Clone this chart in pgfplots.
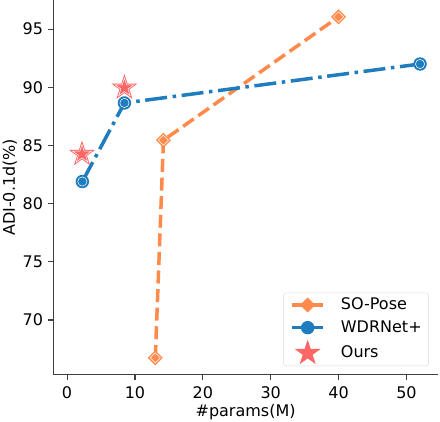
\documentclass[border=0pt]{standalone}
\usepackage{fontspec}
\setmainfont{DejaVu Sans}
\usepackage{pgfplots}
\pgfplotsset{compat=1.18}
\definecolor{cor}{RGB}{255,138,76}
\definecolor{cbl}{RGB}{31,124,190}
\definecolor{cst}{RGB}{255,102,102}
\definecolor{cax}{RGB}{64,64,64}
\newcommand\fs{\fontsize{16bp}{19bp}\selectfont}
\pgfdeclareplotmark{fstar}{%
  \pgfmathsetmacro\rO{\pgfplotmarksize}%
  \pgfmathsetmacro\rI{0.381966*\pgfplotmarksize}%
  \pgfpathmoveto{\pgfqpointpolar{90}{\rO pt}}%
  \pgfpathlineto{\pgfqpointpolar{126}{\rI pt}}%
  \pgfpathlineto{\pgfqpointpolar{162}{\rO pt}}%
  \pgfpathlineto{\pgfqpointpolar{198}{\rI pt}}%
  \pgfpathlineto{\pgfqpointpolar{234}{\rO pt}}%
  \pgfpathlineto{\pgfqpointpolar{270}{\rI pt}}%
  \pgfpathlineto{\pgfqpointpolar{306}{\rO pt}}%
  \pgfpathlineto{\pgfqpointpolar{342}{\rI pt}}%
  \pgfpathlineto{\pgfqpointpolar{18}{\rO pt}}%
  \pgfpathlineto{\pgfqpointpolar{54}{\rI pt}}%
  \pgfpathclose
  \pgfusepathqfillstroke}
\pgfdeclareplotmark{ostar}{%
  \pgfmathsetmacro\rO{\pgfplotmarksize}%
  \pgfmathsetmacro\rI{0.381966*\pgfplotmarksize}%
  \pgfpathmoveto{\pgfqpointpolar{90}{\rO pt}}%
  \pgfpathlineto{\pgfqpointpolar{126}{\rI pt}}%
  \pgfpathlineto{\pgfqpointpolar{162}{\rO pt}}%
  \pgfpathlineto{\pgfqpointpolar{198}{\rI pt}}%
  \pgfpathlineto{\pgfqpointpolar{234}{\rO pt}}%
  \pgfpathlineto{\pgfqpointpolar{270}{\rI pt}}%
  \pgfpathlineto{\pgfqpointpolar{306}{\rO pt}}%
  \pgfpathlineto{\pgfqpointpolar{342}{\rI pt}}%
  \pgfpathlineto{\pgfqpointpolar{18}{\rO pt}}%
  \pgfpathlineto{\pgfqpointpolar{54}{\rI pt}}%
  \pgfpathclose
  \pgfusepathqstroke}
\begin{document}
\fs
\begin{tikzpicture}
\begin{axis}[
  scale only axis, width=384.2bp, height=374.7bp,
  xmin=-2, xmax=54.6, ymin=65.3, ymax=97.5,
  axis x line*=bottom, axis y line*=left,
  axis line style={-, draw=cax, line width=1.1bp},
  xtick={0,10,...,50}, ytick={70,75,...,95},
  tick align=outside, major tick length=5bp,
  tick style={draw=cax, line width=1.1bp},
  /pgf/number format/assume math mode=true,
  ticklabel style={font=\fs},
  xticklabel style={yshift=-1.5bp},
  xlabel={\#params(M)}, ylabel={ADI-0.1d(\%)},
  xlabel style={at={([yshift=-42bp]rel axis cs:0.5,0)}, anchor=base, inner sep=0pt},
  ylabel style={at={([xshift=-38.5bp]rel axis cs:0,0.5)}, anchor=base, inner sep=0pt},
  label style={font=\fs},
  legend style={at={(0.977,0.023)}, anchor=south east,
    draw=black!15, rounded corners=3bp, fill=white,
    font=\fs, inner xsep=7bp, inner ysep=3bp,
    nodes={inner xsep=0bp},
    row sep=4.5bp,
    /tikz/every odd column/.append style={column sep=16bp}},
  legend cell align=left,
  legend image code/.code={%
    \draw[solid, mark repeat=2,mark phase=2] plot coordinates {(0bp,0bp)(15.5bp,0bp)(31bp,0bp)};},
]
\coordinate (sw) at (rel axis cs:0,0);
\addplot[cor, line width=3.5bp, dash pattern=on 13bp off 5.6bp,
  mark=square*, mark size=4.8bp, mark options={solid, rotate=45, fill=cor, draw=cor, line width=1bp}]
  coordinates {(13.0,66.75) (14.2,85.45) (40.0,96.05)};
\addlegendentry{\fs SO-Pose}
\addplot[only marks, forget plot, mark=square, mark size=3.6bp,
  mark options={rotate=45, draw=white, line width=0.5bp}]
  coordinates {(13.0,66.75) (14.2,85.45) (40.0,96.05)};
\addplot[cbl, line width=3.5bp, dash pattern=on 22bp off 5.6bp on 3.5bp off 5.6bp,
  mark=*, mark size=6.2bp, mark options={solid, fill=cbl, draw=cbl, line width=1bp}]
  coordinates {(2.25,81.9) (8.45,88.65) (52.0,92.0)};
\addlegendentry{\fs WDRNet+}
\addplot[only marks, forget plot, mark=o, mark size=4.6bp,
  mark options={draw=white, line width=0.5bp}]
  coordinates {(2.25,81.9) (8.45,88.65) (52.0,92.0)};
\addplot[only marks, mark=fstar, mark size=12bp,
  mark options={fill=cst, draw=cst, line width=1bp},
  legend image code/.code={%
    \path[mark repeat=2,mark phase=2] plot coordinates {(0bp,0bp)(15.5bp,0bp)(31bp,0bp)};}]
  coordinates {(2.2,84.25) (8.45,89.95)};
\addlegendentry{\fs Ours}
\addplot[only marks, forget plot, mark=ostar, mark size=9.8bp,
  mark options={draw=white, line width=0.5bp}]
  coordinates {(2.2,84.25) (8.45,89.95)};
\end{axis}
\pgfresetboundingbox
\path[use as bounding box] ([xshift=-53.5bp,yshift=-47.3bp]sw) rectangle ++(440bp,422bp);
\end{tikzpicture}
\end{document}
